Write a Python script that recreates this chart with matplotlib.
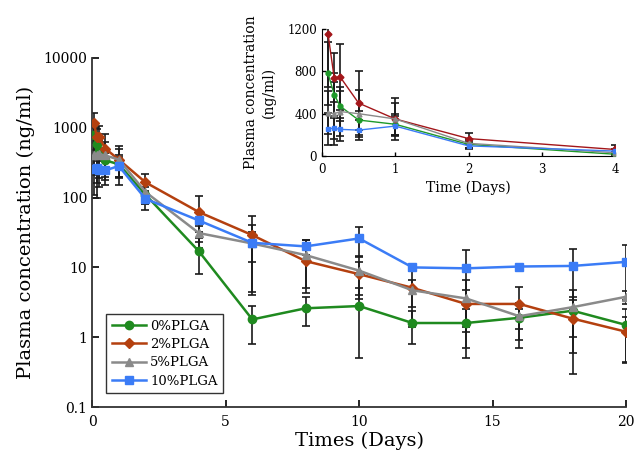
#!/usr/bin/python3

import matplotlib
matplotlib.use('Agg')
import matplotlib.pyplot as plt

## Sampling times (days).
times = [0.083, 0.167, 0.25, 0.5, 1, 2, 4, 6, 8, 10, 12, 14, 16, 18, 20]

## Mean plasma concentrations (ng/ml) for each formulation.
plga0 = [780, 580, 470, 340, 300, 110, 17, 1.8, 2.6, 2.8, 1.6, 1.6, 1.9, 2.4, 1.5]
plga2 = [1150, 740, 745, 500, 350, 165, 62, 29, 12.3, 8, 5.1, 3.0, 3.0, 1.85, 1.2]
plga5 = [410, 400, 420, 400, 350, 120, 31, 22, 15, 9, 4.7, 3.6, 2.0, 2.7, 3.8]
plga10 = [258, 262, 252, 245, 283, 96, 47, 22.5, 20, 26, 10, 9.7, 10.3, 10.5, 12]

## Standard deviations (ng/ml).
sd0 = [300, 200, 140, 90, 100, 30, 9, 1.0, 1.15, 2.3, 0.8, 0.9, 0.6, 1.4, 1.07]
sd2 = [500, 230, 310, 300, 200, 55, 43, 25, 8, 4, 3.7, 1.8, 2.3, 1.55, 0.76]
sd5 = [200, 300, 230, 220, 150, 40, 8, 10, 10, 5.5, 2, 3.1, 1.1, 2.1, 0.8]
sd10 = [150, 100, 110, 95, 95, 30, 15, 18, 5, 12, 0.5, 8.3, 0.5, 8, 8.6]

labels = ['0%PLGA', '2%PLGA', '5%PLGA', '10%PLGA']
colors = ['#1f8a1f', '#b4400f', '#8a8a8a', '#3b7cf6']
inset_colors = ['#1f9a2a', '#a3161a', '#8a8a8a', '#3b7cf6']
markers = ['o', 'D', '^', 's']

## Number of points shown in the inset (up to 4 days).
n_inset = 7


def draw_series(ax, x, y, err, color, marker, label, ms, lw):
  ax.errorbar(x, y, yerr=err, fmt='none', ecolor='#1a1a1a', elinewidth=1.2,
              capsize=3, capthick=1.2, zorder=2)
  ax.plot(x, y, color=color, marker=marker, markersize=ms, linewidth=lw,
          label=label, zorder=3)


def main():
  plt.rcParams['font.family'] = 'DejaVu Serif'

  fig = plt.figure(figsize=(6.35, 4.59), dpi=100)

  ## Main (log) axes.
  ax = fig.add_axes([0.145, 0.113, 0.841, 0.761])
  series = [plga0, plga2, plga5, plga10]
  sds = [sd0, sd2, sd5, sd10]
  for y, err, c, m, lab in zip(series, sds, colors, markers, labels):
    ms = 5 if m == 'D' else 6
    draw_series(ax, times, y, err, c, m, lab, ms, 1.8)

  ax.set_yscale('log')
  ax.set_ylim(0.1, 10000)
  ax.set_xlim(0, 20)
  ax.set_xticks([0, 5, 10, 15, 20])
  ax.set_yticks([0.1, 1, 10, 100, 1000, 10000])
  ax.set_yticklabels(['0.1', '1', '10', '100', '1000', '10000'])
  ax.minorticks_off()
  ax.tick_params(direction='in', length=5, width=1.2, labelsize=10)
  ax.tick_params(axis='x', pad=6)
  for side in ['top', 'right']:
    ax.spines[side].set_visible(False)
  for side in ['left', 'bottom']:
    ax.spines[side].set_linewidth(1.3)
    ax.spines[side].set_color('#333333')

  ax.set_xlabel('Times (Days)', fontsize=14, labelpad=2)
  ax.set_ylabel('Plasma concentration (ng/ml)', fontsize=14, labelpad=6)

  leg = ax.legend(loc='lower left', bbox_to_anchor=(0.027, 0.041),
                  borderaxespad=0, fontsize=9.5, frameon=True, fancybox=False,
                  edgecolor='black', handlelength=2.6, labelspacing=0.4,
                  borderpad=0.4, handletextpad=0.3)
  leg.get_frame().set_linewidth(1.0)

  ## Inset (linear) axes for the first 4 days.
  ax2 = fig.add_axes([0.507, 0.660, 0.462, 0.277])
  for y, err, c, m, lab in zip(series, sds, inset_colors, markers, labels):
    draw_series(ax2, times[:n_inset], y[:n_inset], err[:n_inset], c, m, lab,
                3.5, 1.0)
  ax2.set_xlim(0, 4)
  ax2.set_ylim(0, 1200)
  ax2.set_xticks([0, 1, 2, 3, 4])
  ax2.set_yticks([0, 400, 800, 1200])
  ax2.tick_params(direction='in', length=3, width=1.0, labelsize=8.5)
  ax2.tick_params(axis='x', pad=5)
  for side in ['top', 'right']:
    ax2.spines[side].set_visible(False)
  ax2.set_xlabel('Time (Days)', fontsize=10, labelpad=3)
  ax2.set_ylabel('Plasma concentration\n(ng/ml)', fontsize=10, labelpad=8,
                 linespacing=1.3)

  fig.savefig('out.png', dpi=100)


if __name__ == '__main__':
  main()
